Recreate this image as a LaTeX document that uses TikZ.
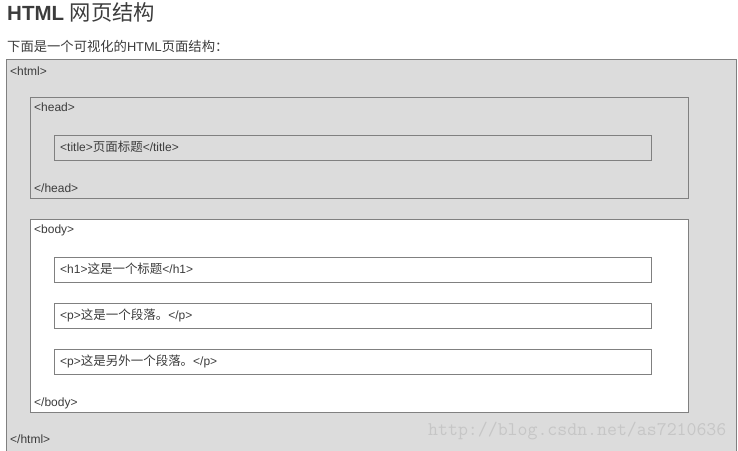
\documentclass[tikz,border=0pt]{standalone}
\usepackage{fontspec}
\usetikzlibrary{positioning}
\setmainfont{Liberation Sans}
\newfontfamily\cjk[Scale=1.04]{Noto Sans CJK SC}
\newcommand{\zh}[1]{{\cjk #1}}
\definecolor{boxgray}{HTML}{DCDCDC}
\definecolor{linegray}{HTML}{808080}
\definecolor{textgray}{HTML}{3C3C3C}
\definecolor{markgray}{HTML}{C6C6C6}

\begin{document}
\begin{tikzpicture}[x=1pt, y=-1pt,
        box/.style = {draw=linegray, fill=boxgray, line width=1pt, inner sep=0pt, outer sep=0pt, anchor=north west},
        tag/.style = {inner sep=0pt, anchor=base west, text=textgray, font=\fontsize{12}{14}\selectfont}]
        \useasboundingbox (0,0) rectangle (738,450);
        \clip (0,0) rectangle (738,450);

        % Titre
        \node[anchor=base west, inner sep=0pt, text=textgray, font=\fontsize{20.5}{24}\selectfont] (title) at (7,20) {\textbf{HTML} \zh{网页结构}};
        \node[tag, font=\fontsize{12.8}{14}\selectfont] (intro) at (7,51) {\zh{下面是一个可视化的}HTML\zh{页面结构：}};

        % Boites
        \node[box, minimum width=729.5, minimum height=400] (html) at (6.5,59.5) {};
        \node[box, minimum width=658, minimum height=100.5] (head) at (30.5,97.5) {};
        \node[box, minimum width=597, minimum height=24.5] (titlebox) at (54.5,135.5) {};
        \node[box, fill=white, minimum width=658, minimum height=192.5] (body) at (30.5,219.5) {};
        \node[box, fill=white, minimum width=597, minimum height=24.5] (h1) at (54.5,257.5) {};
        \node[box, fill=white, minimum width=597, minimum height=24.5] (p1) [below=21.5pt of h1.south west, anchor=north west] {};
        \node[box, fill=white, minimum width=597, minimum height=24.5] (p2) [below=21.5pt of p1.south west, anchor=north west] {};

        % Balises
        \node[tag] (htmlopen) at ([xshift=3.5pt, yshift=-15.5pt]html.north west) {<html>};
        \node[tag] (headopen) at ([xshift=3.5pt, yshift=-13.5pt]head.north west) {<head>};
        \node[tag] (titletext) at ([xshift=5.5pt, yshift=-15.5pt]titlebox.north west) {<title>\zh{页面标题}</title>};
        \node[tag] (headclose) at ([xshift=3.5pt, yshift=6pt]head.south west) {</head>};
        \node[tag] (bodyopen) at ([xshift=3.5pt, yshift=-13.5pt]body.north west) {<body>};
        \node[tag] (h1text) at ([xshift=5.5pt, yshift=-15.5pt]h1.north west) {<h1>\zh{这是一个标题}</h1>};
        \node[tag] (p1text) at ([xshift=5.5pt, yshift=-15.5pt]p1.north west) {<p>\zh{这是一个段落。}</p>};
        \node[tag] (p2text) at ([xshift=5.5pt, yshift=-15.5pt]p2.north west) {<p>\zh{这是另外一个段落。}</p>};
        \node[tag] (bodyclose) at ([xshift=3.5pt, yshift=6pt]body.south west) {</body>};
        \node[tag] (htmlclose) at (10,443) {</html>};

        % Filigrane
        \node[anchor=base west, inner sep=0pt, text=markgray, font=\ttfamily\fontsize{19.3}{21}\selectfont] (mark) at (428,435) {http://blog.csdn.net/as7210636};
\end{tikzpicture}
\end{document}
